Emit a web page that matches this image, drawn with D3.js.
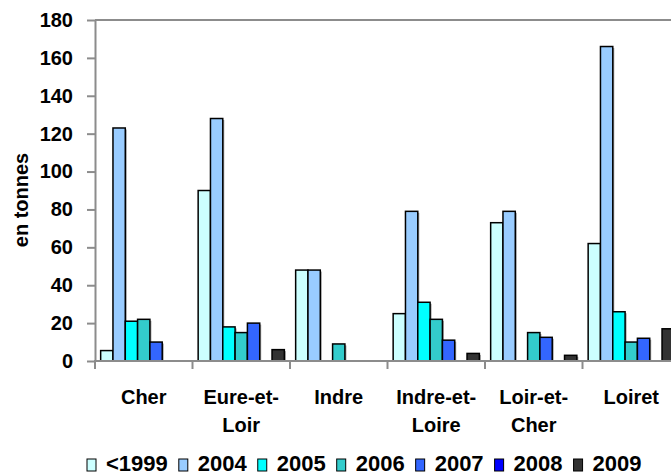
<!DOCTYPE html>
<html>
<head>
<meta charset="utf-8">
<script src="https://cdn.jsdelivr.net/npm/d3@7"></script>
<style>
  body { margin: 0; background: #fff; }
  text { font-family: Arial, "Liberation Sans", sans-serif; font-weight: bold; }
</style>
</head>
<body>
<svg id="chart" width="671" height="475"></svg>
<script>
let categories = ["Cher", "Eure-et-Loir", "Indre", "Indre-et-Loire", "Loir-et-Cher", "Loiret"];
let categoryLines = [["Cher"], ["Eure-et-", "Loir"], ["Indre"], ["Indre-et-", "Loire"], ["Loir-et-", "Cher"], ["Loiret"]];
let series = ["<1999", "2004", "2005", "2006", "2007", "2008", "2009"];
let colors = ["#ccffff", "#99ccff", "#00ffff", "#33cccc", "#3366ff", "#0000ff", "#333333"];

// one array per series, in category order (0 = no bar)
let v1999 = [5.5, 90, 48, 25, 73, 62];
let v2004 = [123, 128, 48, 79, 79, 166];
let v2005 = [21, 18, 0, 31, 0, 26];
let v2006 = [22, 15, 9, 22, 15, 10];
let v2007 = [10, 20, 0, 11, 12.5, 12];
let v2008 = [0, 0, 0, 0, 0, 0];
let v2009 = [0, 6, 0, 4, 3, 17];
let values = [v1999, v2004, v2005, v2006, v2007, v2008, v2009];

let yTicks = [0, 20, 40, 60, 80, 100, 120, 140, 160, 180];

let margins = { top: 20, left: 95, bottom: 114 };
let svgW = 671, svgH = 475;
let plotBottom = svgH - margins.bottom;
let groupStep = 97.5;

let svg = d3.select("#chart");

let yScale = d3.scaleLinear().domain([0, 180]).range([plotBottom, margins.top]);
let xScale = d3.scaleBand()
  .domain(categories)
  .range([margins.left, margins.left + categories.length * groupStep])
  .paddingInner(0.116)
  .paddingOuter(0.058);
let xSeries = d3.scaleBand().domain(series).range([0, xScale.bandwidth()]);

// top border of the plot
svg.append("line")
  .attr("x1", margins.left).attr("x2", svgW)
  .attr("y1", yScale(180)).attr("y2", yScale(180))
  .style("stroke", "#8c8c8c").style("stroke-width", 2);

// bars
let rows = [];
categories.forEach(function(c, ci) {
  series.forEach(function(s, si) {
    if (values[si][ci] > 0) rows.push({ cat: c, s: s, si: si, v: values[si][ci] });
  });
});

let bars = svg.append("g");
bars.selectAll("rect.shadow")
  .data(rows).enter().append("rect")
  .attr("class", "shadow")
  .attr("x", function(d) { return xScale(d.cat) + xSeries(d.s) + 1.5; })
  .attr("y", function(d) { return yScale(d.v) + 1.5; })
  .attr("width", xSeries.bandwidth())
  .attr("height", function(d) { return plotBottom - yScale(d.v) - 1.5; })
  .style("fill", "#a0a0a0");
bars.selectAll("rect.bar")
  .data(rows).enter().append("rect")
  .attr("class", "bar")
  .attr("x", function(d) { return xScale(d.cat) + xSeries(d.s); })
  .attr("y", function(d) { return yScale(d.v); })
  .attr("width", xSeries.bandwidth())
  .attr("height", function(d) { return plotBottom - yScale(d.v); })
  .style("fill", function(d) { return colors[d.si]; })
  .style("stroke", "#000")
  .style("stroke-width", 1.5);

// y axis
let yAxis = d3.axisLeft(yScale).tickValues(yTicks).tickSize(8).tickSizeOuter(0).tickPadding(14);
let yG = svg.append("g")
  .attr("transform", "translate(" + margins.left + ",0)")
  .call(yAxis);
yG.select(".domain").style("stroke", "#8c8c8c").style("stroke-width", 2);
yG.selectAll(".tick line").style("stroke", "#8c8c8c").style("stroke-width", 2);
yG.selectAll(".tick text").style("font-size", "20px").style("fill", "#000")
  .style("font-family", "Arial, 'Liberation Sans', sans-serif").style("font-weight", "bold");

// x axis line and group boundary ticks
svg.append("line")
  .attr("x1", margins.left - 1).attr("x2", svgW)
  .attr("y1", plotBottom).attr("y2", plotBottom)
  .style("stroke", "#8c8c8c").style("stroke-width", 2);
let half = (xScale.step() - xScale.bandwidth()) / 2;
svg.append("g").selectAll("line")
  .data(categories).enter().append("line")
  .attr("x1", function(d) { return xScale(d) - half; })
  .attr("x2", function(d) { return xScale(d) - half; })
  .attr("y1", plotBottom).attr("y2", plotBottom + 8)
  .style("stroke", "#8c8c8c").style("stroke-width", 2);

// category labels
let labels = svg.append("g").selectAll("text")
  .data(categories).enter().append("text")
  .attr("x", function(d) { return xScale(d) + xScale.bandwidth() / 2; })
  .attr("y", plotBottom + 43)
  .attr("text-anchor", "middle")
  .style("font-size", "20px");
labels.selectAll("tspan")
  .data(function(d, i) { return categoryLines[i]; })
  .enter().append("tspan")
  .attr("x", function() { return d3.select(this.parentNode).attr("x"); })
  .attr("dy", function(d, i) { return i === 0 ? 0 : 28; })
  .text(function(d) { return d; });

// y title
svg.append("text")
  .attr("transform", "translate(28," + 200 + ") rotate(-90)")
  .attr("text-anchor", "middle")
  .style("font-size", "20px")
  .text("en tonnes");

// legend
let legend = svg.append("g");
let lx = 87;
series.forEach(function(s, i) {
  legend.append("rect")
    .attr("x", lx).attr("y", 459)
    .attr("width", 9).attr("height", 12)
    .style("fill", colors[i]).style("stroke", "#000").style("stroke-width", 1);
  let t = legend.append("text")
    .attr("x", lx + 19).attr("y", 471)
    .style("font-size", "22px")
    .text(s);
  lx += 19 + t.node().getComputedTextLength() + 11;
});
</script>
</body>
</html>
